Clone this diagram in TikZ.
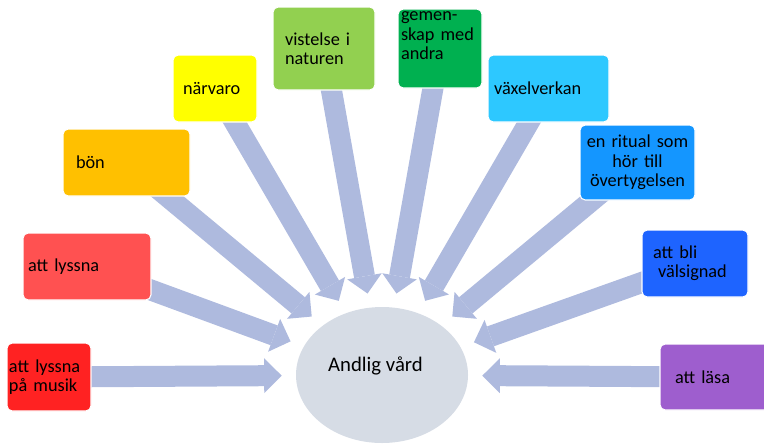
\documentclass[tikz,border=0pt]{standalone}
\usepackage{fontspec}
\setmainfont{Carlito}
\usepackage{xcolor}
\usepackage{tikz}
\usetikzlibrary{arrows.meta,positioning,shapes.geometric,backgrounds}
\definecolor{scarlet}{HTML}{FF2222}
\definecolor{coral}{HTML}{FF5151}
\definecolor{amber}{HTML}{FFC000}
\definecolor{lemon}{HTML}{FFFF00}
\definecolor{leaf}{HTML}{92D050}
\definecolor{forest}{HTML}{00B050}
\definecolor{sky}{HTML}{2DC8FF}
\definecolor{azure}{HTML}{1496FF}
\definecolor{cobalt}{HTML}{1E64FF}
\definecolor{plum}{HTML}{9E5ECE}
\definecolor{haze}{HTML}{AEBADE}
\definecolor{mist}{HTML}{D6DCE5}

\begin{document}
\begin{tikzpicture}
    \tikzset{
      card/.style={rounded corners=3pt,draw=white,line width=0.6pt,font=\fontsize{10.4}{11}\selectfont,inner ysep=0pt},
      hubnode/.style={ellipse,fill=mist,minimum width=3.44cm,minimum height=2.72cm,inner sep=0pt,font=\fontsize{11.8}{13}\selectfont,text height=0.3cm,text depth=0.46cm},
      flow/.style={draw=haze,line width=0.42cm,-{Triangle[width=0.7cm,length=0.35cm,line width=0pt]},shorten >=0.28cm}
    }
    \useasboundingbox (0,0) rectangle (15.28,8.88);
    \node[hubnode] (hub) at (7.64,1.38) {Andlig vård\hspace*{0.26cm}};
    \foreach \n/\x/\y/\w/\h/\c/\pad/\al/\txt in {
      musik/0.98/1.34/1.68/1.36/scarlet/0.04/left/{att lyssna\\på musik},
      lyssna/1.74/3.55/2.56/1.34/coral/0.10/left/{att lyssna},
      bon/2.53/5.63/2.54/1.34/amber/0.26/left/{bön},
      narvaro/4.30/7.11/1.68/1.34/lemon/0.20/left/{närvaro},
      vistelse/6.48/7.91/2.04/1.66/leaf/0.24/left/{vistelse i\\naturen},
      gemenskap/8.80/7.91/1.68/1.58/forest/0.06/left/{gemen-\\skap med\\andra\\[0.12cm]\mbox{}},
      vaxel/10.97/7.11/2.42/1.34/sky/0.12/left/{växelverkan},
      ritual/12.75/5.63/2.30/1.50/azure/0.10/center/{en ritual som\\hör till\\övertygelsen},
      valsignad/13.90/3.61/2.12/1.34/cobalt/0.22/left/{att bli\\\hspace*{0.1cm}välsignad},
      lasa/14.32/1.34/2.24/1.32/plum/0.30/left/{att läsa}} {
      \pgfmathsetmacro\tw{\w-2*\pad}
      \node[card,fill=\c,minimum width=\w cm,minimum height=\h cm,text width=\tw cm,inner xsep=\pad cm,align=\al] (\n) at (\x,\y) {\txt};
    }
    \begin{scope}[on background layer]
      \foreach \n in {musik,lyssna,bon,narvaro,vistelse,gemenskap,vaxel,ritual,valsignad,lasa}
        \draw[flow] (\n.center) -- (hub);
    \end{scope}
\end{tikzpicture}
\end{document}
